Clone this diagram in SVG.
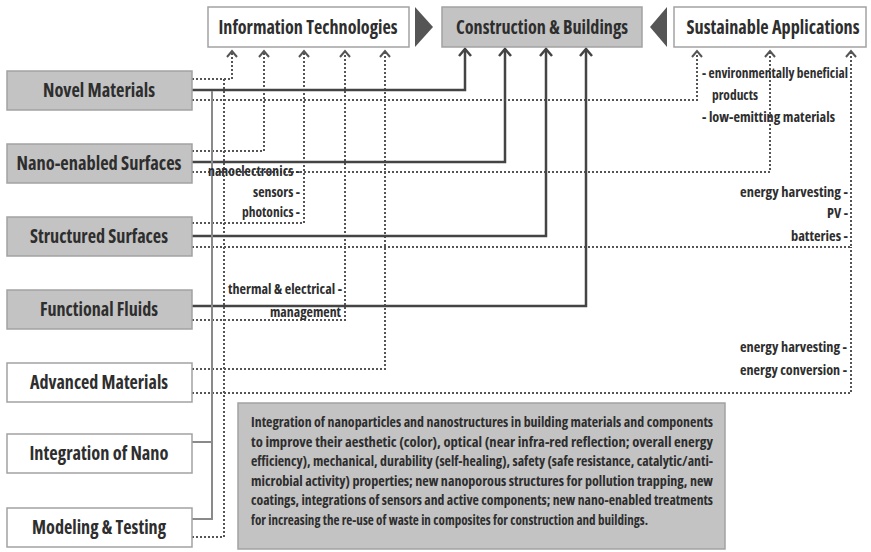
<svg xmlns="http://www.w3.org/2000/svg" width="871" height="552" viewBox="0 0 871 552">
<defs>
<style>
.t{font-family:"Open Sans","Roboto Condensed","DejaVu Sans Condensed",sans-serif;font-stretch:condensed;font-weight:bold;fill:#2e2e2e}
.h{font-size:19px;text-anchor:middle}
.n{font-size:19px;text-anchor:middle}
.s{font-size:14px}
.p{font-size:14px}
.gbox{fill:#c3c3c3;stroke:#a2a2a2;stroke-width:1.5}
.wbox{fill:#fff;stroke:#a2a2a2;stroke-width:1.5}
.dot{fill:none;stroke:#555;stroke-width:2;stroke-dasharray:2 2}
.sol{fill:none;stroke:#444;stroke-width:2.5}
.gry{fill:none;stroke:#8a8a8a;stroke-width:2}
.tri{fill:#555}
</style>
<marker id="ad" markerUnits="userSpaceOnUse" markerWidth="20" markerHeight="20" viewBox="-10 -10 20 20" refX="0" refY="0" orient="auto" overflow="visible">
<path d="M-6,-5 L0,0 L-6,5" fill="none" stroke="#555" stroke-width="2"/>
</marker>
<marker id="as" markerUnits="userSpaceOnUse" markerWidth="20" markerHeight="20" viewBox="-10 -10 20 20" refX="0" refY="0" orient="auto" overflow="visible">
<path d="M-7,-6 L0,0 L-7,6" fill="none" stroke="#444" stroke-width="2.5"/>
</marker>
</defs>
<rect width="871" height="552" fill="#fff"/>

<g id="connectors">
<path class="dot" d="M192,79 H232 V51" marker-end="url(#ad)"/>
<path class="dot" d="M192,537 H224 V79"/>
<path class="dot" d="M192,100 H697 V51" marker-end="url(#ad)"/>
<path class="dot" d="M192,151 H264 V51" marker-end="url(#ad)"/>
<path class="dot" d="M192,172 H770 V51" marker-end="url(#ad)"/>
<path class="dot" d="M192,223 H304 V51" marker-end="url(#ad)"/>
<path class="dot" d="M192,247 H851 V51" marker-end="url(#ad)"/>
<path class="dot" d="M192,320 H345 V51" marker-end="url(#ad)"/>
<path class="dot" d="M192,369 H385 V51" marker-end="url(#ad)"/>
<path class="dot" d="M192,393 H851 V247"/>
<path class="sol" d="M192,90 H465 V49" marker-end="url(#as)"/>
<path class="sol" d="M192,162 H505 V49" marker-end="url(#as)"/>
<path class="sol" d="M192,236 H546 V49" marker-end="url(#as)"/>
<path class="sol" d="M192,306 H586 V49" marker-end="url(#as)"/>
<path class="gry" d="M192,442 H212"/>
<path class="gry" d="M192,519 H212 V91"/>
</g>

<g id="labels">
<text class="t s" x="208" y="176" textLength="92" lengthAdjust="spacingAndGlyphs">nanoelectronics -</text>
<text class="t s" x="253" y="197" textLength="47" lengthAdjust="spacingAndGlyphs">sensors -</text>
<text class="t s" x="242" y="217" textLength="58" lengthAdjust="spacingAndGlyphs">photonics -</text>
<text class="t s" x="228" y="294" textLength="114" lengthAdjust="spacingAndGlyphs">thermal &amp; electrical -</text>
<text class="t s" x="270" y="317" textLength="71" lengthAdjust="spacingAndGlyphs">management</text>
<text class="t s" x="702" y="78" textLength="146" lengthAdjust="spacingAndGlyphs">- environmentally beneficial</text>
<text class="t s" x="712" y="100" textLength="46" lengthAdjust="spacingAndGlyphs">products</text>
<text class="t s" x="702" y="122" textLength="133" lengthAdjust="spacingAndGlyphs">- low-emitting materials</text>
<text class="t s" x="740" y="197" textLength="108" lengthAdjust="spacingAndGlyphs">energy harvesting -</text>
<text class="t s" x="827" y="218" textLength="21" lengthAdjust="spacingAndGlyphs">PV -</text>
<text class="t s" x="791" y="241" textLength="57" lengthAdjust="spacingAndGlyphs">batteries -</text>
<text class="t s" x="740" y="352" textLength="107" lengthAdjust="spacingAndGlyphs">energy harvesting -</text>
<text class="t s" x="740" y="375" textLength="107" lengthAdjust="spacingAndGlyphs">energy conversion -</text>
</g>

<g id="information-technologies">
<rect class="wbox" x="208" y="7" width="201" height="40"/>
<text class="t h" x="308" y="34" textLength="179" lengthAdjust="spacingAndGlyphs">Information Technologies</text>
</g>
<polygon class="tri" points="415,7 433,27 415,47"/>
<g id="construction-buildings">
<rect class="gbox" x="442" y="7" width="200" height="40"/>
<text class="t h" x="542" y="34" textLength="172" lengthAdjust="spacingAndGlyphs">Construction &amp; Buildings</text>
</g>
<polygon class="tri" points="667,7 650,27 667,47"/>
<g id="sustainable-applications">
<rect class="wbox" x="674" y="7" width="192" height="40"/>
<text class="t h" x="773" y="34" textLength="173" lengthAdjust="spacingAndGlyphs">Sustainable Applications</text>
</g>

<g id="novel-materials">
<rect class="gbox" x="7" y="71" width="185" height="39"/>
<text class="t n" x="99" y="97" textLength="112" lengthAdjust="spacingAndGlyphs">Novel Materials</text>
</g>
<g id="nano-enabled-surfaces">
<rect class="gbox" x="7" y="144" width="185" height="39"/>
<text class="t n" x="99" y="170" textLength="165" lengthAdjust="spacingAndGlyphs">Nano-enabled Surfaces</text>
</g>
<g id="structured-surfaces">
<rect class="gbox" x="7" y="217" width="185" height="39"/>
<text class="t n" x="99" y="243" textLength="138" lengthAdjust="spacingAndGlyphs">Structured Surfaces</text>
</g>
<g id="functional-fluids">
<rect class="gbox" x="7" y="290" width="185" height="39"/>
<text class="t n" x="99" y="316" textLength="118" lengthAdjust="spacingAndGlyphs">Functional Fluids</text>
</g>
<g id="advanced-materials">
<rect class="wbox" x="7" y="363" width="185" height="39"/>
<text class="t n" x="99" y="389" textLength="138" lengthAdjust="spacingAndGlyphs">Advanced Materials</text>
</g>
<g id="integration-of-nano">
<rect class="wbox" x="7" y="434" width="185" height="39"/>
<text class="t n" x="99" y="460" textLength="139" lengthAdjust="spacingAndGlyphs">Integration of Nano</text>
</g>
<g id="modeling-testing">
<rect class="wbox" x="7" y="508" width="185" height="39"/>
<text class="t n" x="99" y="534" textLength="134" lengthAdjust="spacingAndGlyphs">Modeling &amp; Testing</text>
</g>

<g id="description">
<rect class="gbox" x="238" y="403" width="487" height="146"/>
<text class="t p" x="251" y="427" textLength="462" lengthAdjust="spacingAndGlyphs">Integration of nanoparticles and nanostructures in building materials and components</text>
<text class="t p" x="251" y="447" textLength="462" lengthAdjust="spacingAndGlyphs">to improve their aesthetic (color), optical (near infra-red reflection; overall energy</text>
<text class="t p" x="251" y="466" textLength="462" lengthAdjust="spacingAndGlyphs">efficiency), mechanical, durability (self-healing), safety (safe resistance, catalytic/anti-</text>
<text class="t p" x="251" y="486" textLength="462" lengthAdjust="spacingAndGlyphs">microbial activity) properties; new nanoporous structures for pollution trapping, new</text>
<text class="t p" x="251" y="505" textLength="462" lengthAdjust="spacingAndGlyphs">coatings, integrations of sensors and active components; new nano-enabled treatments</text>
<text class="t p" x="251" y="525" textLength="397" lengthAdjust="spacingAndGlyphs">for increasing the re-use of waste in composites for construction and buildings.</text>
</g>
</svg>
